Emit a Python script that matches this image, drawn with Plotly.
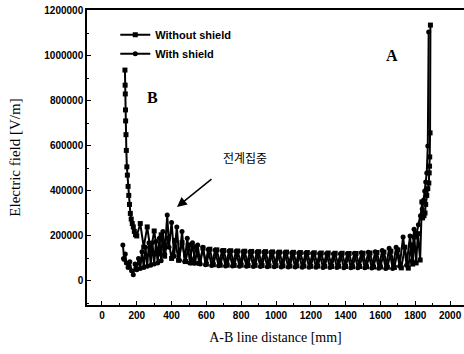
import plotly.graph_objects as go

# ---- data ----
x_without = [132, 133, 134, 135, 136, 138, 140, 143, 146, 150, 154, 158, 163, 168, 174, 180, 186, 193, 200,
             220, 240, 260, 280, 300, 320, 340, 360, 380, 400, 420, 440, 460, 480, 500, 520, 540, 560, 580,
             600, 620, 640, 660, 680,
             700, 720, 740, 760, 780, 800, 820, 840, 860, 880, 900, 920, 940, 960, 980, 1000,
             1020, 1040, 1060, 1080, 1100, 1120, 1140, 1160, 1180, 1200, 1220, 1240, 1260, 1280, 1300,
             1320, 1340, 1360, 1380, 1400, 1420, 1440, 1460, 1480, 1500, 1520, 1540, 1560, 1580, 1600,
             1620, 1640, 1660, 1680, 1700, 1720, 1740, 1760, 1775, 1785, 1795, 1805, 1815, 1828, 1838,
             1842, 1850, 1856, 1860, 1866, 1872, 1878, 1880, 1882, 1883, 1885, 1887]
y_without = [937000, 870000, 831000, 760000, 711000, 650000, 580000, 507000, 470000, 420000, 380000, 340000,
             300000, 275000, 255000, 240000, 220000, 205000, 200000,
             255000, 150000, 240000, 130000, 222000, 120000, 205000, 110000, 190000, 100000, 180000, 92000,
             170000, 86000, 160000, 80000, 152000, 78000, 146000, 75000, 141000, 72000, 138000, 70000,
             135000, 70000, 134000, 69000, 133000, 70000, 132000, 68000, 131000, 69000, 130000, 68000,
             130000, 67000, 129000, 68000, 128000, 67000, 128000, 66000, 127000, 67000, 126000, 66000,
             126000, 65000, 125000, 66000, 124000, 65000, 124000, 64000, 123000, 65000, 123000, 64000,
             122000, 63000, 122000, 64000, 123000, 63000, 124000, 62000, 126000, 62000, 128000, 61000,
             132000, 60000, 138000, 58000, 150000, 57000, 160000, 75000, 195000, 80000, 210000, 93000,
             351000, 280000, 290000, 302000, 340000, 380000, 410000, 435000, 480000, 510000, 551000,
             658000, 1137000]

x_with = [120, 124, 128, 134, 140, 150, 160, 170, 180, 190, 200, 210, 220, 230, 240, 250, 260, 270, 280,
          290, 300, 310, 320, 330, 340, 350, 360, 375, 385, 400, 415, 430, 445, 460, 475, 490, 505, 520,
          535, 550, 565, 580, 595,
          610, 630, 650, 670, 690, 710, 730, 750, 770, 790, 810, 830, 850, 870, 890, 910, 930, 950,
          970, 990, 1010, 1030, 1050, 1070, 1090, 1110, 1130, 1150, 1170, 1190, 1210, 1230, 1250,
          1270, 1290, 1310, 1330, 1350, 1370, 1390, 1410, 1430, 1450, 1470, 1490, 1510, 1530, 1550,
          1570, 1590, 1610, 1630, 1650, 1670, 1690, 1710, 1730, 1750, 1770, 1782, 1793, 1805, 1818,
          1830, 1840, 1848, 1854, 1860, 1866, 1872, 1877, 1881, 1884, 1886]
y_with = [160000, 100000, 95000, 120000, 80000, 60000, 85000, 45000, 27000, 75000, 50000, 100000, 55000,
          130000, 60000, 150000, 65000, 170000, 70000, 170000, 75000, 175000, 80000, 190000, 90000,
          220000, 120000, 293000, 150000, 260000, 110000, 240000, 92000, 220000, 86000, 190000, 80000,
          170000, 78000, 160000, 75000, 150000, 72000,
          140000, 68000, 137000, 67000, 135000, 66000, 133000, 66000, 132000, 65000, 131000, 65000,
          130000, 64000, 129000, 64000, 128000, 63000, 127000, 63000, 126000, 62000, 126000, 62000,
          125000, 62000, 124000, 61000, 124000, 61000, 123000, 61000, 122000, 60000, 122000, 60000,
          121000, 60000, 121000, 59000, 122000, 59000, 123000, 58000, 125000, 58000, 127000, 57000,
          130000, 56000, 135000, 55000, 145000, 55000, 150000, 65000, 195000, 70000, 200000, 90000,
          230000, 200000, 250000, 290000, 320000, 360000, 400000, 440000, 480000, 600000, 1106000]

x_ticks = [0, 200, 400, 600, 800, 1000, 1200, 1400, 1600, 1800, 2000]
y_ticks = [0, 200000, 400000, 600000, 800000, 1000000, 1200000]

fig = go.Figure()
fig.add_trace(go.Scatter(x=x_without, y=y_without, mode="lines+markers", name="Without shield",
                         line=dict(color="black", width=2),
                         marker=dict(color="black", size=5, symbol="square")))
fig.add_trace(go.Scatter(x=x_with, y=y_with, mode="lines+markers", name="With shield",
                         line=dict(color="black", width=2),
                         marker=dict(color="black", size=5, symbol="circle")))

tickfont = dict(family="Liberation Sans", size=10, color="black", weight="bold")
fig.update_xaxes(range=[-86, 2080], tickvals=x_ticks, tickformat="d", ticks="inside", ticklen=4,
                 tickcolor="black", showline=True, linecolor="black", linewidth=1.5, mirror=True,
                 showgrid=False, zeroline=False, tickfont=tickfont, automargin=False,
                 minor=dict(dtick=100, tick0=0, ticks="inside", ticklen=2, tickcolor="black"),
                 title=dict(text="A-B line distance [mm]",
                            font=dict(family="Liberation Serif", size=14, color="black"), standoff=12))
fig.update_yaxes(range=[-107000, 1204000], tickvals=y_ticks, tickformat="d", ticks="inside", ticklen=4,
                 tickcolor="black", showline=True, linecolor="black", linewidth=1.5, mirror=False,
                 showgrid=False, zeroline=False, tickfont=tickfont, automargin=False,
                 minor=dict(dtick=100000, tick0=0, ticks="inside", ticklen=2, tickcolor="black"),
                 title=dict(text="Electric field [V/m]",
                            font=dict(family="Liberation Serif", size=15, color="black"), standoff=20))

fig.add_annotation(x=0.154, y=0.739, xref="paper", yref="paper", text="<b>B</b>", showarrow=False,
                   font=dict(family="Liberation Serif", size=16, color="black"))
fig.add_annotation(x=0.83, y=0.88, xref="paper", yref="paper", text="<b>A</b>", showarrow=False,
                   font=dict(family="Liberation Serif", size=16, color="black"))
fig.add_annotation(x=431, y=329000, ax=638, ay=458000, xref="x", yref="y", axref="x", ayref="y",
                   text="", showarrow=True, arrowhead=2, arrowsize=1.3, arrowwidth=1.5, arrowcolor="black")
fig.add_annotation(x=822, y=547000, xref="x", yref="y", text="전계집중", showarrow=False,
                   font=dict(family="Noto Sans CJK KR", size=12, color="black"))

fig.update_layout(width=464, height=354, margin=dict(l=87, r=0, t=10, b=49),
                  paper_bgcolor="white", plot_bgcolor="white", showlegend=True,
                  legend=dict(x=0.075, y=0.965, xanchor="left", yanchor="top", bgcolor="rgba(0,0,0,0)",
                              font=dict(family="Liberation Sans", size=11, color="black", weight="bold"),
                              tracegroupgap=0, itemwidth=30))
fig.write_html("out.html", config={"displayModeBar": False},
               post_script="document.body.style.margin='0';")
